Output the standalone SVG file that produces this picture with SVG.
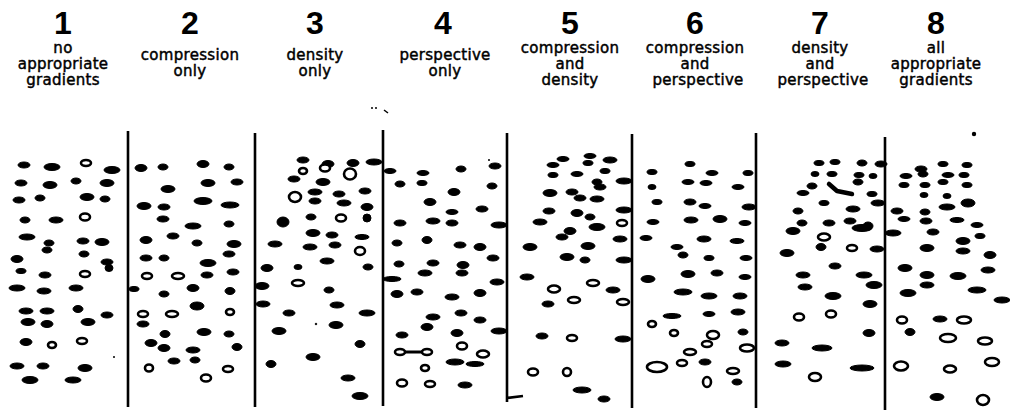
<svg xmlns="http://www.w3.org/2000/svg" width="1010" height="414" viewBox="0 0 1010 414">
<style>
.num{font-family:"Liberation Sans",Arial,sans-serif;font-weight:bold;font-size:32px;fill:#000;text-anchor:middle}
.lbl{font-family:"DejaVu Sans","Liberation Sans",sans-serif;font-size:15px;fill:#000;stroke:#000;stroke-width:0.45;text-anchor:middle;letter-spacing:0.3px}
.b{fill:#000;stroke:#000;stroke-width:1}
.r{fill:#fff;stroke:#000;stroke-width:2.6}
.v{stroke:#000;stroke-width:2.6;fill:none}
</style>
<rect width="1010" height="414" fill="#fff"/>
<g id="titles">
<text class="num" x="63" y="34">1</text>
<text class="lbl" x="63" y="53">no</text>
<text class="lbl" x="63" y="69">appropriate</text>
<text class="lbl" x="63" y="85">gradients</text>
<text class="num" x="190" y="34">2</text>
<text class="lbl" x="190" y="60">compression</text>
<text class="lbl" x="190" y="76">only</text>
<text class="num" x="315" y="34">3</text>
<text class="lbl" x="315" y="60">density</text>
<text class="lbl" x="315" y="76">only</text>
<text class="num" x="443" y="34">4</text>
<text class="lbl" x="445" y="60">perspective</text>
<text class="lbl" x="445" y="76">only</text>
<text class="num" x="570" y="34">5</text>
<text class="lbl" x="570" y="53">compression</text>
<text class="lbl" x="570" y="69">and</text>
<text class="lbl" x="570" y="85">density</text>
<text class="num" x="695" y="34">6</text>
<text class="lbl" x="695" y="53">compression</text>
<text class="lbl" x="695" y="69">and</text>
<text class="lbl" x="698" y="85">perspective</text>
<text class="num" x="820" y="34">7</text>
<text class="lbl" x="820" y="53">density</text>
<text class="lbl" x="820" y="69">and</text>
<text class="lbl" x="823" y="85">perspective</text>
<text class="num" x="936" y="34">8</text>
<text class="lbl" x="936" y="53">all</text>
<text class="lbl" x="936" y="69">appropriate</text>
<text class="lbl" x="936" y="85">gradients</text>
</g>
<g id="dividers">
<line class="v" x1="128" y1="131" x2="128" y2="407"/>
<line class="v" x1="255" y1="133" x2="255" y2="407"/>
<line class="v" x1="383" y1="130" x2="383" y2="406"/>
<path class="v" d="M507 133 V402 M507 398 L523 396"/>
<line class="v" x1="632" y1="134" x2="632" y2="408"/>
<line class="v" x1="756" y1="133" x2="756" y2="408"/>
<line class="v" x1="885" y1="137" x2="885" y2="410"/>
</g>
<g id="specks" fill="#000">
<circle cx="372" cy="108" r="1"/><circle cx="376" cy="108" r="1"/>
<path d="M384 110 L388 113" stroke="#000" stroke-width="1.5"/>
<circle cx="974" cy="134" r="2.2"/>
</g>
<g id="panel1">
<g class="b">
<ellipse cx="24" cy="165" rx="6" ry="3"/><ellipse cx="52" cy="167" rx="8" ry="3.5"/><ellipse cx="112" cy="170" rx="8" ry="3.5"/>
<ellipse cx="21" cy="183" rx="6" ry="3"/><ellipse cx="50" cy="185" rx="7" ry="3.5"/><ellipse cx="76" cy="181" rx="5" ry="3"/><ellipse cx="107" cy="183" rx="7" ry="3.5"/>
<ellipse cx="19" cy="200" rx="6" ry="3"/><ellipse cx="40" cy="198" rx="5" ry="3"/><ellipse cx="87" cy="197" rx="7" ry="3.5"/><ellipse cx="105" cy="199" rx="5" ry="3"/>
<ellipse cx="25" cy="220" rx="5" ry="3"/><ellipse cx="56" cy="220" rx="7" ry="3"/>
<ellipse cx="27" cy="237" rx="8" ry="3"/><ellipse cx="49" cy="243" rx="5" ry="3"/><ellipse cx="47" cy="250" rx="5" ry="3"/><ellipse cx="83" cy="241" rx="6" ry="3"/><ellipse cx="102" cy="242" rx="7" ry="3.5"/>
<ellipse cx="17" cy="259" rx="6" ry="3.5"/><ellipse cx="84" cy="254" rx="5" ry="3"/><ellipse cx="107" cy="262" rx="6" ry="3"/><ellipse cx="109" cy="268" rx="4" ry="3.5"/>
<ellipse cx="21" cy="271" rx="5" ry="2.5"/><ellipse cx="45" cy="275" rx="6" ry="3"/>
<ellipse cx="17" cy="288" rx="8" ry="3"/><ellipse cx="44" cy="291" rx="7" ry="3"/><ellipse cx="76" cy="288" rx="7" ry="3"/>
<ellipse cx="26" cy="311" rx="7" ry="3"/><ellipse cx="47" cy="311" rx="7" ry="3"/><ellipse cx="78" cy="309" rx="5" ry="3.5"/><ellipse cx="107" cy="315" rx="6" ry="3"/>
<ellipse cx="28" cy="322" rx="7" ry="3.5"/><ellipse cx="47" cy="324" rx="6" ry="3.5"/><ellipse cx="88" cy="322" rx="7" ry="3.5"/>
<ellipse cx="26" cy="342" rx="6" ry="3.5"/>
<circle cx="114" cy="357" r="0.6"/>
<ellipse cx="17" cy="366" rx="7" ry="3"/><ellipse cx="43" cy="366" rx="6" ry="3"/><ellipse cx="85" cy="368" rx="7" ry="3.5"/>
<ellipse cx="30" cy="380" rx="8" ry="3.5"/><ellipse cx="73" cy="380" rx="8" ry="3"/>
</g>
<g class="r">
<ellipse cx="86" cy="163" rx="5" ry="3"/><ellipse cx="85" cy="217" rx="5" ry="3.5"/><ellipse cx="85" cy="274" rx="5" ry="3"/>
<ellipse cx="52" cy="345" rx="4" ry="3"/><ellipse cx="82" cy="341" rx="5" ry="3"/>
</g>
</g>
<g id="panel2">
<g class="b">
<ellipse cx="141" cy="168" rx="6" ry="3.5"/><ellipse cx="163" cy="167" rx="5" ry="3"/><ellipse cx="203" cy="164" rx="6" ry="3.5"/><ellipse cx="229" cy="167" rx="5" ry="3"/>
<ellipse cx="168" cy="189" rx="7" ry="3.5"/><ellipse cx="208" cy="183" rx="7" ry="3.5"/><ellipse cx="237" cy="182" rx="6" ry="3"/>
<ellipse cx="144" cy="206" rx="7" ry="3.5"/><ellipse cx="164" cy="207" rx="6" ry="3"/><ellipse cx="203" cy="201" rx="9" ry="3.5"/><ellipse cx="230" cy="205" rx="9" ry="3"/>
<ellipse cx="163" cy="219" rx="6" ry="3"/><ellipse cx="193" cy="226" rx="8" ry="3"/><ellipse cx="229" cy="224" rx="5" ry="3"/>
<ellipse cx="146" cy="240" rx="6" ry="3.5"/><ellipse cx="173" cy="236" rx="6" ry="3"/><ellipse cx="197" cy="243" rx="5" ry="3"/><ellipse cx="234" cy="244" rx="7" ry="3.5"/>
<ellipse cx="229" cy="254" rx="6" ry="3"/>
<ellipse cx="146" cy="258" rx="6" ry="3"/><ellipse cx="164" cy="258" rx="5" ry="3"/><ellipse cx="208" cy="263" rx="8" ry="3.5"/><ellipse cx="233" cy="272" rx="6" ry="3"/>
<ellipse cx="207" cy="275" rx="6" ry="3"/>
<ellipse cx="134" cy="289" rx="5" ry="2.5"/><ellipse cx="164" cy="294" rx="5" ry="3"/><ellipse cx="193" cy="288" rx="6" ry="3.5"/><ellipse cx="230" cy="291" rx="5" ry="3.5"/>
<ellipse cx="197" cy="306" rx="7" ry="4"/>
<ellipse cx="143" cy="324" rx="6" ry="3"/>
<ellipse cx="165" cy="334" rx="5" ry="3.5"/><ellipse cx="204" cy="332" rx="7" ry="3.5"/><ellipse cx="229" cy="334" rx="5" ry="3"/>
<ellipse cx="151" cy="343" rx="6" ry="3.5"/><ellipse cx="164" cy="348" rx="6" ry="3.5"/><ellipse cx="193" cy="350" rx="7" ry="3"/><ellipse cx="237" cy="347" rx="5" ry="3.5"/>
<ellipse cx="174" cy="361" rx="6" ry="3"/><ellipse cx="195" cy="360" rx="5" ry="3"/>
</g>
<g class="r">
<ellipse cx="147" cy="276" rx="5" ry="3"/><ellipse cx="178" cy="276" rx="6" ry="3"/>
<ellipse cx="143" cy="314" rx="5" ry="3"/><ellipse cx="172" cy="314" rx="6" ry="3"/><ellipse cx="230" cy="312" rx="4" ry="3"/>
<ellipse cx="149" cy="368" rx="4" ry="3.5"/><ellipse cx="228" cy="369" rx="5" ry="3"/><ellipse cx="206" cy="378" rx="5" ry="3.5"/>
</g>
</g>
<g id="panel3">
<g class="b">
<ellipse cx="303" cy="160" rx="6" ry="3"/><ellipse cx="328" cy="164" rx="6" ry="3.5"/><ellipse cx="353" cy="163" rx="6" ry="3.5"/><ellipse cx="374" cy="162" rx="8" ry="3"/>
<ellipse cx="294" cy="179" rx="6" ry="3"/><ellipse cx="323" cy="182" rx="7" ry="3.5"/>
<ellipse cx="315" cy="192" rx="7" ry="3"/><ellipse cx="315" cy="201" rx="6" ry="3"/><ellipse cx="339" cy="194" rx="6" ry="3"/><ellipse cx="344" cy="203" rx="7" ry="3"/><ellipse cx="365" cy="191" rx="6" ry="3"/>
<ellipse cx="367" cy="207" rx="6" ry="3.5"/>
<ellipse cx="283" cy="222" rx="6" ry="5"/><ellipse cx="311" cy="217" rx="5" ry="3"/><ellipse cx="367" cy="218" rx="4" ry="4"/>
<ellipse cx="313" cy="233" rx="7" ry="3.5"/><ellipse cx="332" cy="235" rx="6" ry="3"/><ellipse cx="362" cy="237" rx="7" ry="2.5"/>
<ellipse cx="275" cy="244" rx="7" ry="3"/><ellipse cx="310" cy="247" rx="7" ry="3"/><ellipse cx="335" cy="245" rx="6" ry="3"/>
<ellipse cx="327" cy="261" rx="7" ry="3"/>
<ellipse cx="267" cy="268" rx="6" ry="3.5"/><ellipse cx="298" cy="267" rx="4" ry="2.5"/><ellipse cx="368" cy="267" rx="5" ry="3"/>
<ellipse cx="262" cy="286" rx="7" ry="3.5"/>
<ellipse cx="329" cy="290" rx="5" ry="3"/>
<ellipse cx="263" cy="304" rx="7" ry="3"/><ellipse cx="337" cy="305" rx="7" ry="3"/>
<ellipse cx="289" cy="313" rx="6" ry="3"/><ellipse cx="367" cy="313" rx="8" ry="3"/>
<circle cx="316" cy="324" r="0.8"/><ellipse cx="336" cy="325" rx="7" ry="3.5"/>
<ellipse cx="279" cy="331" rx="7" ry="3.5"/>
<ellipse cx="360" cy="344" rx="5" ry="3.5"/>
<ellipse cx="313" cy="357" rx="7" ry="3.5"/>
<ellipse cx="271" cy="364" rx="5" ry="3.5"/>
<ellipse cx="348" cy="378" rx="7" ry="3"/>
<ellipse cx="360" cy="396" rx="8" ry="3.5"/>
</g>
<g class="r">
<ellipse cx="303" cy="171" rx="4" ry="3"/><ellipse cx="325" cy="168" rx="5" ry="3.5"/><ellipse cx="350" cy="174" rx="6" ry="5.5"/>
<ellipse cx="295" cy="197" rx="6" ry="5"/><ellipse cx="341" cy="218" rx="5" ry="3.5"/><ellipse cx="360" cy="251" rx="5" ry="4"/>
<ellipse cx="298" cy="283" rx="6" ry="3"/>
</g>
</g>
<g id="panel4">
<g class="b">
<ellipse cx="390" cy="171" rx="6" ry="2.5"/><ellipse cx="423" cy="173" rx="6" ry="2.5"/><ellipse cx="461" cy="169" rx="5" ry="3"/><ellipse cx="495" cy="166" rx="6" ry="3"/><circle cx="489" cy="160" r="0.6"/>
<ellipse cx="400" cy="184" rx="5" ry="3"/><ellipse cx="422" cy="183" rx="5" ry="2.5"/><ellipse cx="454" cy="192" rx="6" ry="3.5"/><ellipse cx="492" cy="186" rx="5" ry="3"/>
<ellipse cx="430" cy="202" rx="6" ry="3.5"/>
<ellipse cx="452" cy="212" rx="6" ry="2.5"/><ellipse cx="482" cy="209" rx="6" ry="3"/>
<ellipse cx="400" cy="223" rx="6" ry="3"/><ellipse cx="433" cy="221" rx="7" ry="3"/><ellipse cx="452" cy="223" rx="6" ry="3"/><ellipse cx="499" cy="225" rx="8" ry="3"/>
<ellipse cx="397" cy="243" rx="5" ry="3"/><ellipse cx="427" cy="240" rx="5" ry="3.5"/><ellipse cx="460" cy="245" rx="6" ry="3"/><ellipse cx="480" cy="247" rx="6" ry="3.5"/>
<ellipse cx="493" cy="258" rx="6" ry="3"/>
<ellipse cx="399" cy="264" rx="5" ry="3"/><ellipse cx="433" cy="263" rx="6" ry="3"/><ellipse cx="463" cy="265" rx="6" ry="3.5"/>
<ellipse cx="425" cy="273" rx="7" ry="3"/><ellipse cx="462" cy="273" rx="6" ry="3"/>
<ellipse cx="392" cy="279" rx="9" ry="2.5"/><ellipse cx="497" cy="282" rx="7" ry="3"/>
<ellipse cx="397" cy="294" rx="6" ry="3.5"/><ellipse cx="417" cy="292" rx="6" ry="3"/><ellipse cx="452" cy="297" rx="7" ry="3"/><ellipse cx="480" cy="293" rx="6" ry="3.5"/>
<ellipse cx="433" cy="317" rx="7" ry="3"/><ellipse cx="461" cy="313" rx="6" ry="3"/><ellipse cx="480" cy="320" rx="6" ry="3"/>
<ellipse cx="427" cy="327" rx="6" ry="3.5"/><ellipse cx="499" cy="331" rx="8" ry="3"/>
<ellipse cx="402" cy="335" rx="6" ry="3"/><ellipse cx="457" cy="333" rx="6" ry="3.5"/>
<ellipse cx="455" cy="362" rx="9" ry="3"/><ellipse cx="475" cy="364" rx="9" ry="2.5"/>
<ellipse cx="465" cy="385" rx="7" ry="3"/>
<path d="M404 352 H423" stroke-width="3"/>
</g>
<g class="r">
<ellipse cx="462" cy="346" rx="5" ry="3.5"/><ellipse cx="483" cy="354" rx="6" ry="3.5"/>
<ellipse cx="400" cy="352" rx="5" ry="3"/><ellipse cx="427" cy="352" rx="5" ry="3"/>
<ellipse cx="425" cy="368" rx="4" ry="3"/>
<ellipse cx="402" cy="383" rx="5" ry="3.5"/><ellipse cx="430" cy="384" rx="5" ry="3"/>
</g>
</g>
<g id="panel5">
<g class="b">
<ellipse cx="563" cy="159" rx="6" ry="2.5"/><ellipse cx="590" cy="156" rx="6" ry="2.5"/><ellipse cx="610" cy="160" rx="7" ry="3"/>
<ellipse cx="553" cy="165" rx="6" ry="2.5"/><ellipse cx="588" cy="163" rx="5" ry="2.5"/>
<ellipse cx="553" cy="175" rx="5" ry="2.5"/><ellipse cx="577" cy="174" rx="6" ry="2.5"/><ellipse cx="605" cy="171" rx="5" ry="2.5"/>
<ellipse cx="597" cy="182" rx="5" ry="3"/><ellipse cx="600" cy="187" rx="6" ry="3"/><ellipse cx="624" cy="181" rx="8" ry="3"/>
<ellipse cx="550" cy="193" rx="7" ry="3.5"/><ellipse cx="572" cy="192" rx="6" ry="3"/><ellipse cx="580" cy="198" rx="6" ry="3"/><ellipse cx="597" cy="199" rx="7" ry="3"/>
<ellipse cx="549" cy="211" rx="6" ry="3"/><ellipse cx="577" cy="213" rx="6" ry="3.5"/><ellipse cx="590" cy="217" rx="5" ry="3"/><ellipse cx="624" cy="210" rx="8" ry="3"/>
<ellipse cx="540" cy="222" rx="7" ry="3"/><ellipse cx="597" cy="227" rx="8" ry="3.5"/>
<ellipse cx="570" cy="231" rx="6" ry="3.5"/><ellipse cx="562" cy="237" rx="6" ry="3"/>
<ellipse cx="530" cy="247" rx="7" ry="3.5"/><ellipse cx="588" cy="246" rx="7" ry="3.5"/><ellipse cx="620" cy="239" rx="7" ry="3"/>
<ellipse cx="567" cy="257" rx="7" ry="3.5"/><ellipse cx="585" cy="260" rx="5" ry="3"/><ellipse cx="624" cy="260" rx="8" ry="3"/>
<ellipse cx="527" cy="277" rx="7" ry="3"/><ellipse cx="613" cy="290" rx="7" ry="3"/>
<ellipse cx="548" cy="304" rx="6" ry="3"/>
<ellipse cx="542" cy="336" rx="6" ry="3"/><ellipse cx="623" cy="339" rx="8" ry="3"/>
<ellipse cx="582" cy="390" rx="9" ry="3"/><ellipse cx="604" cy="399" rx="6" ry="3"/>
</g>
<g class="r">
<ellipse cx="622" cy="223" rx="5" ry="3"/>
<ellipse cx="593" cy="283" rx="6" ry="3"/><ellipse cx="554" cy="289" rx="6" ry="3.5"/><ellipse cx="574" cy="300" rx="6" ry="3"/>
<ellipse cx="623" cy="302" rx="6" ry="3"/><ellipse cx="572" cy="338" rx="5" ry="3"/>
<ellipse cx="533" cy="372" rx="5" ry="3.5"/><ellipse cx="567" cy="372" rx="4" ry="4"/>
</g>
</g>
<g id="panel6">
<g class="b">
<ellipse cx="652" cy="172" rx="5" ry="2.5"/><ellipse cx="690" cy="164" rx="5" ry="2.5"/><ellipse cx="712" cy="173" rx="6" ry="2.5"/><ellipse cx="748" cy="173" rx="5" ry="2.5"/>
<ellipse cx="652" cy="187" rx="4" ry="2.5"/><ellipse cx="688" cy="182" rx="6" ry="2.5"/><ellipse cx="706" cy="183" rx="6" ry="2.5"/><ellipse cx="738" cy="187" rx="6" ry="2.5"/>
<ellipse cx="657" cy="202" rx="5" ry="2.5"/><ellipse cx="690" cy="202" rx="6" ry="3"/><ellipse cx="705" cy="206" rx="6" ry="2.5"/><ellipse cx="749" cy="207" rx="7" ry="3"/>
<ellipse cx="653" cy="222" rx="6" ry="2.5"/><ellipse cx="691" cy="220" rx="7" ry="3"/><ellipse cx="720" cy="219" rx="7" ry="3.5"/><ellipse cx="745" cy="223" rx="6" ry="2.5"/>
<ellipse cx="646" cy="238" rx="6" ry="2.5"/><ellipse cx="704" cy="239" rx="7" ry="3"/><ellipse cx="737" cy="241" rx="7" ry="2.5"/>
<ellipse cx="677" cy="247" rx="6" ry="2.5"/><ellipse cx="683" cy="255" rx="5" ry="3"/><ellipse cx="709" cy="258" rx="5" ry="2.5"/><ellipse cx="746" cy="258" rx="6" ry="2.5"/>
<ellipse cx="648" cy="279" rx="7" ry="3.5"/><ellipse cx="688" cy="274" rx="7" ry="3.5"/><ellipse cx="717" cy="273" rx="6" ry="3"/><ellipse cx="745" cy="277" rx="6" ry="2.5"/>
<ellipse cx="683" cy="292" rx="9" ry="3"/><ellipse cx="709" cy="296" rx="8" ry="3"/><ellipse cx="740" cy="296" rx="7" ry="3"/>
<ellipse cx="672" cy="316" rx="9" ry="2.5"/><ellipse cx="709" cy="314" rx="6" ry="2.5"/><ellipse cx="738" cy="312" rx="7" ry="3"/>
<ellipse cx="743" cy="332" rx="5" ry="3"/>
<ellipse cx="705" cy="362" rx="6" ry="3"/>
<ellipse cx="737" cy="382" rx="5" ry="3"/>
</g>
<g class="r">
<ellipse cx="652" cy="324" rx="4" ry="3"/><ellipse cx="674" cy="333" rx="4" ry="3"/><ellipse cx="713" cy="335" rx="6" ry="4"/><ellipse cx="707" cy="344" rx="5" ry="3"/>
<ellipse cx="690" cy="352" rx="6" ry="3"/><ellipse cx="747" cy="348" rx="7" ry="3.5"/>
<ellipse cx="657" cy="367" rx="10" ry="5"/><ellipse cx="682" cy="363" rx="5" ry="3"/>
<ellipse cx="733" cy="371" rx="6" ry="3"/><ellipse cx="707" cy="382" rx="4" ry="5"/>
</g>
</g>
<g id="panel7">
<g class="b">
<ellipse cx="819" cy="163" rx="5" ry="2.5"/><ellipse cx="835" cy="162" rx="5" ry="2.5"/><ellipse cx="862" cy="163" rx="5" ry="3"/><ellipse cx="881" cy="164" rx="6" ry="3"/>
<ellipse cx="815" cy="174" rx="4" ry="2.5"/><ellipse cx="832" cy="174" rx="5" ry="2.5"/><ellipse cx="859" cy="175" rx="5" ry="2.5"/><ellipse cx="873" cy="176" rx="4" ry="2.5"/>
<ellipse cx="812" cy="186" rx="5" ry="3"/><ellipse cx="858" cy="182" rx="5" ry="3"/>
<ellipse cx="803" cy="193" rx="6" ry="2.5"/><ellipse cx="872" cy="194" rx="5" ry="2.5"/>
<path d="M829 184 L837 191 L852 194" stroke-width="4.5" stroke-linecap="round" stroke-linejoin="round" fill="none"/>
<ellipse cx="824" cy="203" rx="5" ry="2.5"/><ellipse cx="878" cy="203" rx="7" ry="3"/>
<ellipse cx="798" cy="211" rx="5" ry="3"/><ellipse cx="853" cy="209" rx="7" ry="3"/>
<ellipse cx="802" cy="223" rx="5" ry="3"/><ellipse cx="829" cy="223" rx="6" ry="3"/><ellipse cx="850" cy="221" rx="6" ry="3"/><ellipse cx="862" cy="228" rx="10" ry="3.5"/><ellipse cx="868" cy="226" rx="5" ry="4"/>
<ellipse cx="793" cy="231" rx="7" ry="3.5"/>
<ellipse cx="821" cy="247" rx="5" ry="3.5"/><ellipse cx="877" cy="249" rx="7" ry="3"/>
<ellipse cx="787" cy="253" rx="7" ry="3.5"/>
<ellipse cx="835" cy="266" rx="6" ry="3"/>
<ellipse cx="803" cy="275" rx="7" ry="3"/><ellipse cx="864" cy="275" rx="8" ry="3"/>
<ellipse cx="805" cy="287" rx="7" ry="3"/><ellipse cx="874" cy="285" rx="8" ry="3.5"/>
<ellipse cx="833" cy="296" rx="8" ry="3.5"/>
<ellipse cx="870" cy="304" rx="7" ry="3.5"/>
<ellipse cx="869" cy="333" rx="6" ry="3.5"/>
<ellipse cx="782" cy="343" rx="7" ry="3"/><ellipse cx="822" cy="348" rx="10" ry="3"/>
<ellipse cx="783" cy="364" rx="8" ry="3"/><ellipse cx="862" cy="368" rx="12" ry="3"/>
</g>
<g class="r">
<ellipse cx="824" cy="237" rx="6" ry="3.5"/><ellipse cx="852" cy="248" rx="5" ry="3"/>
<ellipse cx="799" cy="317" rx="5" ry="3.5"/><ellipse cx="831" cy="314" rx="5" ry="3.5"/>
<ellipse cx="815" cy="377" rx="6" ry="4"/>
</g>
</g>
<g id="panel8">
<g class="b">
<ellipse cx="921" cy="169" rx="6" ry="3"/><ellipse cx="943" cy="164" rx="5" ry="2.5"/><ellipse cx="967" cy="165" rx="5" ry="2.5"/>
<ellipse cx="906" cy="176" rx="6" ry="2.5"/><ellipse cx="923" cy="174" rx="5" ry="3"/><ellipse cx="948" cy="175" rx="6" ry="2.5"/><ellipse cx="964" cy="175" rx="5" ry="2.5"/>
<ellipse cx="904" cy="185" rx="5" ry="2.5"/><ellipse cx="925" cy="185" rx="5" ry="2.5"/><ellipse cx="943" cy="182" rx="5" ry="2.5"/><ellipse cx="967" cy="185" rx="5" ry="2.5"/>
<ellipse cx="924" cy="195" rx="4" ry="2.5"/><ellipse cx="947" cy="196" rx="4" ry="2.5"/>
<ellipse cx="947" cy="207" rx="8" ry="3"/><ellipse cx="968" cy="203" rx="7" ry="4"/>
<ellipse cx="897" cy="211" rx="6" ry="3"/><ellipse cx="925" cy="212" rx="5" ry="3"/>
<ellipse cx="904" cy="219" rx="6" ry="2.5"/><ellipse cx="926" cy="221" rx="6" ry="3"/><ellipse cx="957" cy="220" rx="7" ry="2.5"/><ellipse cx="977" cy="225" rx="6" ry="2.5"/>
<ellipse cx="893" cy="233" rx="8" ry="3"/><ellipse cx="933" cy="232" rx="6" ry="3"/><ellipse cx="980" cy="236" rx="5" ry="2.5"/>
<ellipse cx="963" cy="241" rx="7" ry="3.5"/>
<ellipse cx="927" cy="248" rx="7" ry="3.5"/><ellipse cx="963" cy="251" rx="7" ry="3"/><ellipse cx="990" cy="255" rx="6" ry="3.5"/>
<ellipse cx="905" cy="268" rx="7" ry="3.5"/><ellipse cx="927" cy="275" rx="7" ry="3.5"/><ellipse cx="958" cy="276" rx="8" ry="3.5"/><ellipse cx="988" cy="270" rx="7" ry="3"/>
<ellipse cx="927" cy="285" rx="7" ry="3"/><ellipse cx="908" cy="293" rx="8" ry="3.5"/><ellipse cx="977" cy="290" rx="9" ry="3"/>
<ellipse cx="1002" cy="300" rx="8" ry="3"/>
<ellipse cx="940" cy="319" rx="7" ry="3"/>
<ellipse cx="910" cy="332" rx="5" ry="3.5"/>
<ellipse cx="937" cy="397" rx="7" ry="3.5"/>
</g>
<g class="r">
<ellipse cx="902" cy="320" rx="5" ry="3.5"/><ellipse cx="964" cy="320" rx="7" ry="3.5"/>
<ellipse cx="948" cy="338" rx="8" ry="4"/><ellipse cx="985" cy="341" rx="7" ry="3.5"/>
<ellipse cx="901" cy="366" rx="7" ry="4.5"/><ellipse cx="950" cy="369" rx="6" ry="3.5"/><ellipse cx="992" cy="362" rx="7" ry="4"/>
<ellipse cx="983" cy="400" rx="6" ry="5"/>
</g>
</g>
</svg>
